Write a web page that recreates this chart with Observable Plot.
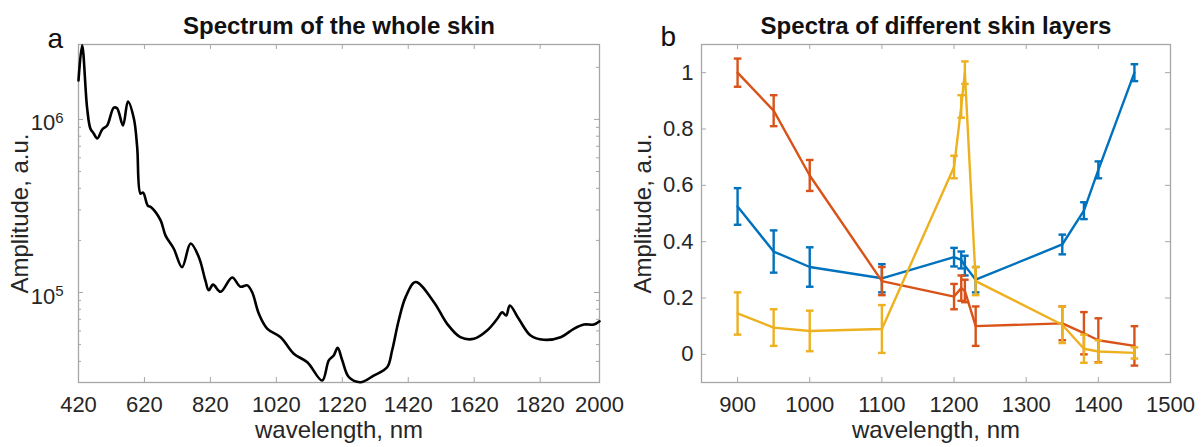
<!DOCTYPE html>
<html><head><meta charset="utf-8">
<script src="https://cdn.jsdelivr.net/npm/d3@7"></script>
<script src="https://cdn.jsdelivr.net/npm/@observablehq/plot@0.6"></script>
<style>
body{margin:0;background:#fff;}
#wrap{position:relative;width:1203px;height:447px;overflow:hidden;background:#fff;}
.panel{position:absolute;top:0;}
.panel svg{max-width:none;display:block;}
</style></head><body><div id="wrap"><div class="panel" id="pa" style="left:0px"></div><div class="panel" id="pb" style="left:620px"></div></div>
<script>
// ---------- Panel a: spectrum of the whole skin ----------
const skinWavelength = [420,431,446,456,466,477,492,507,527,537,555,570,588,598,608,616,630,641,669,684,709,734,760,785,805,815,828,851,886,911,932,947,967,992,1033,1073,1114,1159,1179,1194,1206,1220,1240,1275,1315,1356,1371,1391,1412,1442,1498,1538,1578,1619,1659,1690,1705,1717,1728,1755,1791,1831,1882,1922,1953,1983,2000];
const skinAmplitude = [1.68e6,2.68e6,1.17e6,8.87e5,8.30e5,7.76e5,8.75e5,9.23e5,1.17e6,1.16e6,9.23e5,1.27e6,1.01e6,6.89e5,3.73e5,3.78e5,3.18e5,3.10e5,2.61e5,2.13e5,1.79e5,1.40e5,1.92e5,1.60e5,1.17e5,1.03e5,1.11e5,1.01e5,1.22e5,1.08e5,1.10e5,1.00e5,7.53e4,6.19e4,5.52e4,4.43e4,3.95e4,3.10e4,4.05e4,4.33e4,4.79e4,4.05e4,3.24e4,3.03e4,3.31e4,3.70e4,4.62e4,6.89e4,9.40e4,1.15e5,8.79e4,6.59e4,5.52e4,5.40e4,6.03e4,7.05e4,7.69e4,7.36e4,8.41e4,7.05e4,5.64e4,5.33e4,5.52e4,6.17e4,6.53e4,6.53e4,6.82e4];
const skinXTicks = [420,620,820,1020,1220,1420,1620,1820,2000];
const skinYTicks = [1e5,1e6];
const skinYMinorTicks = [4e4,5e4,6e4,7e4,8e4,9e4,2e5,3e5,4e5,5e5,6e5,7e5,8e5,9e5,2e6];

// ---------- Panel b: spectra of different skin layers ----------
const layerWavelength = [900,950,1000,1100,1200,1210,1215,1230,1350,1380,1400,1450];
const layerBlue      = [0.525,0.365,0.31,0.27,0.345,0.335,0.315,0.265,0.39,0.51,0.655,1.0];
const layerBlueErr   = [0.065,0.075,0.07,0.05,0.033,0.03,0.035,0.045,0.035,0.03,0.03,0.03];
const layerRed       = [1.0,0.865,0.635,0.26,0.205,0.235,0.225,0.10,0.11,0.075,0.05,0.03];
const layerRedErr    = [0.05,0.055,0.055,0.05,0.045,0.045,0.04,0.07,0.06,0.075,0.078,0.07];
const layerYellow    = [0.145,0.095,0.083,0.09,0.665,0.88,1.0,0.26,0.105,0.02,0.01,0.005];
const layerYellowErr = [0.075,0.065,0.072,0.085,0.04,0.04,0.04,0.05,0.065,0.05,0.04,0.02];
const layerXTicks = [900,1000,1100,1200,1300,1400,1500];
const layerYTicks = [0,0.2,0.4,0.6,0.8,1];

const FONT = "'Liberation Sans', Arial, Helvetica, sans-serif";
const TXT = "#262626";
const AX = "#a6a6a6";
const H = 447, MT = 44, MB = 65;
const FH = H - MT - MB;

function frameTicks(xt, yt, fw, len) {
  return [
    Plot.tickX(xt, {x: d => d, stroke: AX, strokeWidth: 1, insetTop: FH - len}),
    Plot.tickX(xt, {x: d => d, stroke: AX, strokeWidth: 1, insetBottom: FH - len}),
    Plot.tickY(yt, {y: d => d, stroke: AX, strokeWidth: 1, insetRight: fw - len}),
    Plot.tickY(yt, {y: d => d, stroke: AX, strokeWidth: 1, insetLeft: fw - len})
  ];
}

// Panel a
const WA = 640, MLA = 78, MRA = 41, FWA = WA - MLA - MRA;
const skin = skinWavelength.map((w, i) => ({w, a: skinAmplitude[i]}));
const plotA = Plot.plot({
  width: WA, height: H, marginLeft: MLA, marginRight: MRA, marginTop: MT, marginBottom: MB,
  style: {fontFamily: FONT, background: "transparent", color: TXT, overflow: "visible"},
  x: {type: "linear", domain: [420, 2000], axis: null},
  y: {type: "log", domain: [3.02e4, 2.71e6], axis: null},
  marks: [
    ...frameTicks(skinXTicks, skinYTicks, FWA, 5),
    Plot.tickY(skinYMinorTicks, {y: d => d, stroke: AX, strokeWidth: 1, insetRight: FWA - 3}),
    Plot.tickY(skinYMinorTicks, {y: d => d, stroke: AX, strokeWidth: 1, insetLeft: FWA - 3}),
    Plot.frame({stroke: AX, strokeWidth: 1.3}),
    Plot.axisX({ticks: skinXTicks, anchor: "bottom", tickSize: 0, tickPadding: 14, fontSize: 22, fill: TXT, label: null, tickFormat: d => String(d)}),
    Plot.axisY({ticks: skinYTicks, anchor: "left", tickSize: 0, tickPadding: 15, fontSize: 22, fill: TXT, label: null, tickFormat: d => "10^" + Math.round(Math.log10(d)), dy: 4}),
    Plot.line(skin, {x: "w", y: "a", stroke: "#000", strokeWidth: 2.6, curve: "catmull-rom"}),
    Plot.text(["Spectrum of the whole skin"], {text: d => d, frameAnchor: "top", dy: -11, lineAnchor: "bottom", fontSize: 24, fontWeight: "bold", fill: "#111"}),
    Plot.text(["a"], {text: d => d, frameAnchor: "top-left", dx: -31, dy: 3, textAnchor: "start", lineAnchor: "bottom", fontSize: 28, fill: "#111"}),
    Plot.text(["wavelength, nm"], {text: d => d, frameAnchor: "bottom", dy: 55, lineAnchor: "bottom", fontSize: 24, fill: TXT}),
    Plot.text(["Amplitude, a.u."], {text: d => d, frameAnchor: "left", dx: -58.5, rotate: -90, textAnchor: "middle", lineAnchor: "middle", fontSize: 24, fill: TXT})
  ]
});
plotA.style.maxWidth = "none";
// render "10^n" tick labels with a real superscript
plotA.querySelectorAll('g[aria-label="y-axis tick label"] text').forEach(t => {
  const m = /^10\^(-?\d+)$/.exec(t.textContent);
  if (!m) return;
  t.textContent = "10";
  const s = document.createElementNS("http://www.w3.org/2000/svg", "tspan");
  s.setAttribute("font-size", "15");
  s.setAttribute("dy", "-0.5em");
  s.textContent = m[1];
  t.appendChild(s);
});
document.getElementById("pa").appendChild(plotA);

// Panel b
const WB = 583, MLB = 81, MRB = 33, FWB = WB - MLB - MRB;
const series = [
  {name: "blue", color: "#0072BD", values: layerBlue, errs: layerBlueErr},
  {name: "red", color: "#D95319", values: layerRed, errs: layerRedErr},
  {name: "yellow", color: "#EDB120", values: layerYellow, errs: layerYellowErr}
];
const capSymbol = {draw(ctx, size) { const r = Math.sqrt(size / Math.PI); ctx.moveTo(-r, 0); ctx.lineTo(r, 0); }};
const seriesMarks = series.flatMap(s => {
  const rows = layerWavelength.map((w, i) => ({w, v: s.values[i], e: s.errs[i]}));
  return [
    Plot.line(rows, {x: "w", y: "v", stroke: s.color, strokeWidth: 2.4}),
    Plot.ruleX(rows, {x: "w", y1: d => d.v - d.e, y2: d => d.v + d.e, stroke: s.color, strokeWidth: 2.4}),
    Plot.dot(rows, {x: "w", y: d => d.v - d.e, symbol: capSymbol, r: 3.8, stroke: s.color, fill: "none", strokeWidth: 2.4}),
    Plot.dot(rows, {x: "w", y: d => d.v + d.e, symbol: capSymbol, r: 3.8, stroke: s.color, fill: "none", strokeWidth: 2.4})
  ];
});
const plotB = Plot.plot({
  width: WB, height: H, marginLeft: MLB, marginRight: MRB, marginTop: MT, marginBottom: MB,
  style: {fontFamily: FONT, background: "transparent", color: TXT, overflow: "visible"},
  x: {type: "linear", domain: [850, 1500], axis: null},
  y: {type: "linear", domain: [-0.1, 1.1], axis: null},
  marks: [
    ...frameTicks(layerXTicks, layerYTicks, FWB, 5),
    Plot.frame({stroke: AX, strokeWidth: 1.3}),
    Plot.axisX({ticks: layerXTicks, anchor: "bottom", tickSize: 0, tickPadding: 14, fontSize: 22, fill: TXT, label: null, tickFormat: d => String(d)}),
    Plot.axisY({ticks: layerYTicks, anchor: "left", tickSize: 0, tickPadding: 8, fontSize: 22, fill: TXT, label: null, tickFormat: d => String(d)}),
    ...seriesMarks,
    Plot.text(["Spectra of different skin layers"], {text: d => d, frameAnchor: "top", dy: -11, lineAnchor: "bottom", fontSize: 24, fontWeight: "bold", fill: "#111"}),
    Plot.text(["b"], {text: d => d, frameAnchor: "top-left", dx: -41, dy: 1, textAnchor: "start", lineAnchor: "bottom", fontSize: 28, fill: "#111"}),
    Plot.text(["wavelength, nm"], {text: d => d, frameAnchor: "bottom", dy: 55, lineAnchor: "bottom", fontSize: 24, fill: TXT}),
    Plot.text(["Amplitude, a.u."], {text: d => d, frameAnchor: "left", dx: -58.5, rotate: -90, textAnchor: "middle", lineAnchor: "middle", fontSize: 24, fill: TXT})
  ]
});
plotB.style.maxWidth = "none";
document.getElementById("pb").appendChild(plotB);
</script></body></html>
